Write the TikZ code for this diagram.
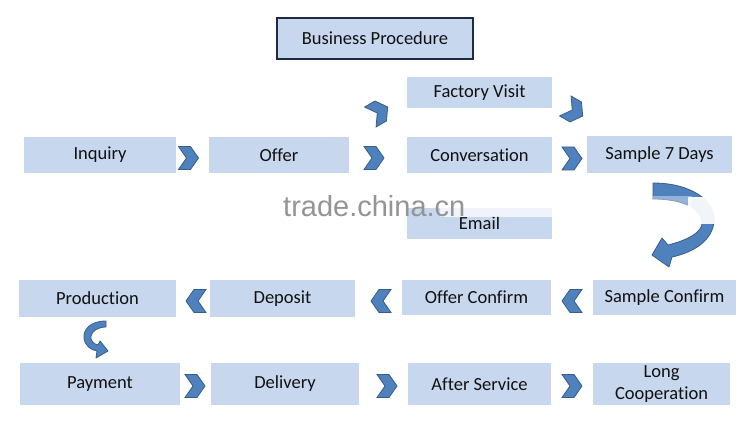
\documentclass[tikz,border=0pt]{standalone}
\usepackage{fontspec}
\setmainfont{Carlito}[Ligatures=NoCommon]
\newfontfamily\wmfont{Liberation Sans}
\usetikzlibrary{calc}
\definecolor{boxblue}{HTML}{C7D7EE}
\definecolor{chevblue}{HTML}{4F81BD}
\definecolor{chevline}{HTML}{385D8A}
\definecolor{titleline}{HTML}{1F2B44}
\definecolor{txt}{HTML}{111111}
\tikzset{
  box/.style={fill=boxblue, inner sep=0pt, text=txt, align=center,
    font=\fontsize{18.5}{22.5}\selectfont},
  chevstyle/.style={fill=chevblue, draw=chevline, line width=0.8pt, line join=miter},
  chev/.pic={\path[chevstyle] (-10,11.5) -- (2,11.5) -- (10,0) -- (2,-11.5) -- (-10,-11.5) -- (-2,0) -- cycle;},
  curvestyle/.style={fill=chevblue, draw=chevline, line width=0.8pt, line join=round}
}
\begin{document}
\begin{tikzpicture}[x=1pt,y=1pt]
\fill[white] (0,0) rectangle (750,-438);
\useasboundingbox (0,0) rectangle (750,-438);

% title
\node[box, draw=titleline, line width=2pt, minimum width=196, minimum height=41] (title) at (375,-38.5) {Business Procedure};

% row 1
\node[box, minimum width=145, minimum height=31] (fv) at (479.5,-92.5) {Factory Visit};
\node[box, minimum width=152, minimum height=36] (inq) at (100,-155) {Inquiry};
\node[box, minimum width=140, minimum height=36] (off) at (279,-155) {Offer};
\node[box, minimum width=145, minimum height=36] (conv) at (479.5,-155) {Conversation};
\node[box, minimum width=145, minimum height=37] (s7) at (659.5,-154.5) {Sample 7 Days};
\node[box, minimum width=145, minimum height=31] (email) at (479.5,-223.5) {Email};

% row 2
\node[box, minimum width=157, minimum height=37] (prod) at (97.5,-298.5) {Production};
\node[box, minimum width=145, minimum height=37] (dep) at (282.5,-298.5) {Deposit};
\node[box, minimum width=149, minimum height=35] (ocf) at (476.5,-297.5) {Offer Confirm};
\node[box, minimum width=143, minimum height=35] (scf) at (664.5,-297.5) {Sample Confirm};

% row 3
\node[box, minimum width=160, minimum height=42] (pay) at (100,-384) {Payment};
\node[box, minimum width=148, minimum height=42] (del) at (285,-384) {Delivery};
\node[box, minimum width=143, minimum height=42] (aft) at (479.5,-384) {After Service};
\node[box, minimum width=137, minimum height=42] (long) at (661.5,-384) {Long\\Cooperation};

% chevrons row 1
\pic at (188.5,-158) {chev};
\pic at (374,-158) {chev};
\pic at (572,-158.5) {chev};
\pic[rotate=30] at (379,-112) {chev};
\pic[rotate=-30] at (574,-111) {chev};

% chevrons row 2 (pointing left)
\pic[rotate=180] at (196,-301) {chev};
\pic[rotate=180] at (381,-301) {chev};
\pic[rotate=180] at (572,-301) {chev};

% chevrons row 3
\pic at (195,-386) {chev};
\pic at (387,-386) {chev};
\pic at (572,-386) {chev};

% big curved arrow: Sample 7 Days -> Sample Confirm
\path[curvestyle] (653,-183) .. controls (690,-183) and (716,-200) .. (714,-222)
  .. controls (712,-240) and (695,-252) .. (672,-257)
  -- (669,-267) -- (652,-255) -- (662,-238) -- (668,-245)
  .. controls (688,-240) and (703,-232) .. (702,-222)
  .. controls (701,-207) and (680,-199) .. (653,-199) -- cycle;

% small curved arrow: Production -> Payment
\path[curvestyle] (106,-321) .. controls (90,-321) and (83,-330) .. (84,-338)
  .. controls (85,-346) and (91,-350) .. (97,-351)
  -- (96,-358) -- (108,-351) -- (100,-341) -- (98,-345)
  .. controls (94,-344) and (90,-341) .. (91,-336)
  .. controls (92,-331) and (98,-327) .. (106,-327) -- cycle;

% watermark fading patches
\fill[white, opacity=0.75] (440,-205) rectangle (552,-217);
\fill[white, opacity=0.92] (688,-197) rectangle (720,-224);
\fill[white, opacity=0.4] (653,-196) rectangle (692,-210);

% watermark
\node[anchor=base west, inner sep=0pt, text=black!42, font=\wmfont\fontsize{29}{30}\selectfont] (wm) at (283,-217) {trade.china.cn};
\end{tikzpicture}
\end{document}
